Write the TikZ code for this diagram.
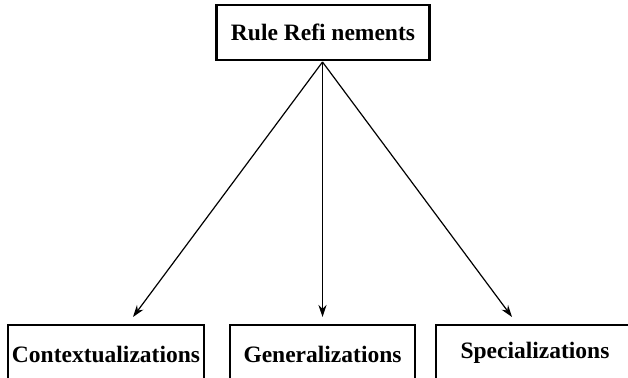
\documentclass[tikz,border=0pt]{standalone}
\usepackage{fontspec}
\setmainfont{Liberation Serif}
\usepackage{tikz}
\usetikzlibrary{arrows.meta,positioning}

\tikzset{
  refbox/.style={draw,line width=2.4pt,inner sep=0pt,font=\fontsize{23.5}{28}\selectfont\bfseries},
  lowbox/.style={refbox,anchor=base,text depth=30pt},
  refarrow/.style={line width=1.2pt,-{Stealth[length=12pt,width=8pt]}}
}

\begin{document}
\begin{tikzpicture}[x=1pt,y=1pt]
  \useasboundingbox (0,0) rectangle (628,377);
  \clip (0,0) rectangle (628,377);
  % top box
  \node[refbox,minimum width=213pt,minimum height=55pt] (rule) at (323,344.5) {Rule Refi nements};
  % bottom boxes, cut by the lower edge
  \node[lowbox,minimum width=196pt,text height=37pt] (ctx) at (106,15) {Contextualizations};
  \node[lowbox,minimum width=185pt,text height=37pt] (gen) at (322.5,15) {Generalizations};
  \node[lowbox,minimum width=198pt,text height=33pt] (spec) at (535,19) {Specializations};
  % arrow ends
  \coordinate (ctxend) at (133,60);
  \coordinate (genend) at (322.5,60);
  \coordinate (specend) at (512,60);
  \coordinate (apex) at (322.5,315);
  \draw[refarrow] (apex) -- (ctxend);
  \draw[refarrow] (apex) -- (genend);
  \draw[refarrow] (apex) -- (specend);
\end{tikzpicture}
\end{document}
